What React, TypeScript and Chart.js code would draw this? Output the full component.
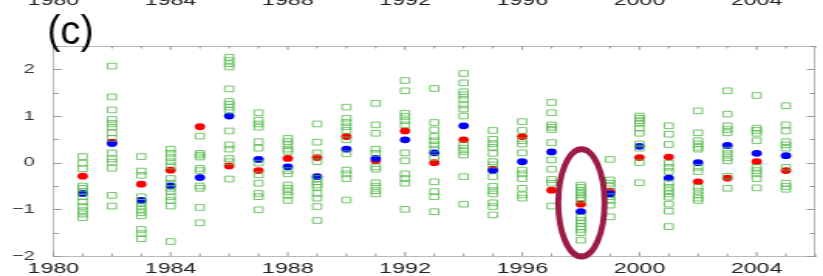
import React, { useEffect, useRef } from 'react';
import { Chart, registerables } from 'chart.js';

Chart.register(...registerables);

// ---- data ----
const years = [1981, 1982, 1983, 1984, 1985, 1986, 1987, 1988, 1989, 1990, 1991, 1992, 1993,
  1994, 1995, 1996, 1997, 1998, 1999, 2000, 2001, 2002, 2003, 2004, 2005];

const redValues = [-0.29, 0.44, -0.46, -0.16, 0.77, -0.07, -0.17, 0.09, 0.11, 0.56, 0.04, 0.68, 0.0,
  0.49, -0.14, 0.56, -0.59, -0.89, -0.61, 0.11, 0.12, -0.41, -0.33, 0.02, -0.17];

const blueValues = [-0.66, 0.41, -0.81, -0.5, -0.32, 1.0, 0.07, -0.09, -0.3, 0.29, 0.09, 0.49, 0.21,
  0.79, -0.17, 0.02, 0.23, -1.05, -0.67, 0.35, -0.33, 0.0, 0.37, 0.2, 0.15];

const ensembleMembers: number[][] = [
  [0.13, -0.01, -0.13, -0.5, -0.55, -0.62, -0.73, -0.84, -0.94, -1.03, -1.1, -1.18],
  [2.07, 1.41, 1.13, 0.93, 0.84, 0.76, 0.64, 0.52, 0.21, 0.08, 0.01, -0.12, -0.7, -0.93],
  [0.13, -0.18, -0.27, -0.73, -0.85, -0.93, -1.0, -1.07, -1.14, -1.43, -1.52, -1.63],
  [0.29, 0.2, 0.11, 0.02, -0.07, -0.34, -0.44, -0.55, -0.62, -0.73, -0.81, -0.93, -1.69],
  [0.57, 0.2, 0.16, 0.12, -0.12, -0.17, -0.5, -0.55, -0.96, -1.29],
  [2.26, 2.19, 2.12, 2.05, 1.58, 1.31, 1.25, 1.19, 1.12, 0.68, 0.38, 0.29, 0.09, 0.02, -0.35],
  [1.07, 0.91, 0.83, 0.76, 0.45, 0.31, -0.01, -0.26, -0.44, -0.66, -0.73, -1.01],
  [0.52, 0.45, 0.38, 0.29, 0.24, -0.17, -0.24, -0.48, -0.55, -0.62, -0.7, -0.81],
  [0.83, 0.44, 0.21, 0.02, -0.34, -0.41, -0.48, -0.53, -0.66, -0.76, -0.94, -1.24],
  [1.19, 0.95, 0.86, 0.77, 0.69, 0.49, 0.19, -0.16, -0.24, -0.34, -0.8],
  [1.27, 0.81, 0.63, 0.29, 0.2, -0.09, -0.14, -0.43, -0.51, -0.6, -0.67],
  [1.76, 1.54, 1.06, 0.99, 0.9, 0.81, 0.21, 0.04, -0.24, -0.34, -0.44, -1.0],
  [1.59, 0.86, 0.7, 0.56, 0.47, 0.38, 0.29, 0.11, -0.41, -0.62, -0.73, -1.05],
  [1.91, 1.71, 1.52, 1.45, 1.36, 1.24, 1.15, 1.0, 0.38, 0.31, 0.24, 0.16, -0.3, -0.89],
  [0.69, 0.5, 0.41, 0.33, 0.2, 0.02, -0.05, -0.3, -0.51, -0.6, -0.67, -0.86, -0.94, -1.12],
  [0.88, 0.69, 0.47, 0.4, 0.21, -0.16, -0.24, -0.34, -0.55, -0.69, -0.76],
  [1.29, 1.07, 0.81, 0.76, 0.71, 0.43, 0.06, -0.14, -0.36, -0.44, -0.93],
  [-0.48, -0.53, -0.59, -0.64, -0.69, -0.75, -0.8, -1.17, -1.24, -1.3, -1.37, -1.43, -1.5, -1.66],
  [0.07, -0.37, -0.44, -0.51, -0.73, -0.81, -0.91, -1.16],
  [1.0, 0.95, 0.9, 0.84, 0.74, 0.63, 0.4, 0.31, 0.0, -0.43],
  [0.79, 0.61, 0.39, -0.01, -0.1, -0.19, -0.44, -0.53, -0.6, -0.67, -0.74, -0.89, -1.04, -1.37],
  [1.11, 0.64, 0.47, 0.4, 0.33, 0.29, -0.1, -0.19, -0.53, -0.61, -0.69, -0.76, -0.81],
  [1.54, 1.04, 0.79, 0.71, 0.64, 0.27, 0.19, 0.11, 0.04, -0.29, -0.55],
  [1.44, 0.74, 0.69, 0.63, 0.47, -0.1, -0.17, -0.24, -0.34, -0.54],
  [1.22, 0.81, 0.68, 0.45, 0.38, 0.31, -0.1, -0.44, -0.51, -0.57],
];

const xLabelYears = [1980, 1984, 1988, 1992, 1996, 2000, 2004];
const yLabelValues = [-2, -1, 0, 1, 2];
const panelLabel = '(c)';

// highlighted year (ellipse annotation, in data units)
const highlightYear = 1998.02;
const highlightCenter = -0.86;
const highlightHalfWidthYears = 0.79;
const highlightHalfHeight = 1.15;

// ---- rendering geometry ----
const W0 = 532;
const H0 = 276;
const SX = 823 / W0;

const decorPlugin = {
  id: 'decor',
  afterDraw(chart: any) {
    const ctx = chart.ctx as CanvasRenderingContext2D;
    const { left, right, top, bottom } = chart.chartArea;
    const xs = chart.scales.x;
    const ys = chart.scales.y;
    ctx.save();
    // top & right frame
    ctx.strokeStyle = '#b8b8b8';
    ctx.lineWidth = 1;
    ctx.beginPath();
    ctx.moveTo(left, top + 0.5);
    ctx.lineTo(right, top + 0.5);
    ctx.moveTo(right - 0.5, top);
    ctx.lineTo(right - 0.5, bottom);
    ctx.stroke();
    // inward ticks
    ctx.strokeStyle = '#999';
    ctx.beginPath();
    for (let yr = xs.min; yr <= xs.max; yr++) {
      const px = xs.getPixelForValue(yr);
      const len = yr % 4 === 0 ? 4 : 2.5;
      ctx.moveTo(px, top);
      ctx.lineTo(px, top + len);
      ctx.moveTo(px, bottom);
      ctx.lineTo(px, bottom - len);
    }
    for (let v = ys.min; v <= ys.max + 1e-9; v += 0.5) {
      const py = Math.round(ys.getPixelForValue(v)) + 0.5;
      const len = Number.isInteger(v) ? 5.5 : 3.5;
      ctx.moveTo(left, py);
      ctx.lineTo(left + len, py);
      ctx.moveTo(right, py);
      ctx.lineTo(right - len, py);
    }
    ctx.stroke();

    // cut-off labels of the panel above
    ctx.fillStyle = '#222';
    ctx.font = '15px "Liberation Sans", Arial, sans-serif';
    ctx.textAlign = 'center';
    ctx.textBaseline = 'alphabetic';
    for (const yr of xLabelYears) {
      ctx.fillText(String(yr), xs.getPixelForValue(yr), 5);
    }

    // panel label, not stretched
    ctx.save();
    ctx.translate(47 / SX, 44);
    ctx.scale(1 / SX, 1);
    ctx.fillStyle = '#000';
    ctx.font = '40px "Liberation Sans", Arial, sans-serif';
    ctx.textAlign = 'left';
    ctx.fillText(panelLabel, 0, 0);
    ctx.restore();

    // highlight ellipse
    const cx = xs.getPixelForValue(highlightYear);
    const cy = ys.getPixelForValue(highlightCenter);
    const rx = Math.abs(xs.getPixelForValue(highlightYear + highlightHalfWidthYears) - cx);
    const ry = Math.abs(ys.getPixelForValue(highlightCenter + highlightHalfHeight) - cy);
    ctx.beginPath();
    ctx.ellipse(cx, cy, rx, ry, 0, 0, Math.PI * 2);
    ctx.save();
    ctx.scale(1 / SX, 1);
    ctx.lineWidth = 6;
    ctx.strokeStyle = '#9b1b45';
    ctx.stroke();
    ctx.restore();

    ctx.restore();
  },
};

export default function App() {
  const ref = useRef<HTMLCanvasElement | null>(null);

  useEffect(() => {
    document.body.style.margin = '0';
    if (!ref.current) return;

    const ensemblePoints = years.flatMap((yr, i) => ensembleMembers[i].map((v) => ({ x: yr, y: v })));
    const redPoints = years.map((yr, i) => ({ x: yr, y: redValues[i] }));
    const bluePoints = years.map((yr, i) => ({ x: yr, y: blueValues[i] }));

    const chart = new Chart(ref.current, {
      type: 'scatter',
      data: {
        datasets: [
          {
            label: 'ensemble',
            data: ensemblePoints,
            pointStyle: 'rect',
            pointRadius: 4,
            borderWidth: 1,
            borderColor: 'rgba(80,185,70,0.8)',
            backgroundColor: 'rgba(255,255,255,0)',
          },
          {
            label: 'blue',
            data: bluePoints,
            pointStyle: 'circle',
            pointRadius: 3.4,
            borderWidth: 0,
            backgroundColor: '#0000ff',
          },
          {
            label: 'red',
            data: redPoints,
            pointStyle: 'circle',
            pointRadius: 3.4,
            borderWidth: 0,
            backgroundColor: '#ff0000',
          },
        ],
      },
      options: {
        responsive: false,
        animation: false,
        events: [],
        layout: { padding: { top: 46, left: 0, right: 0, bottom: 0 } },
        plugins: { legend: { display: false }, tooltip: { enabled: false } },
        scales: {
          x: {
            type: 'linear',
            min: 1980,
            max: 2006,
            afterBuildTicks: (axis: any) => {
              axis.ticks = xLabelYears.map((v) => ({ value: v }));
            },
            afterFit: (axis: any) => {
              axis.height = 20;
            },
            ticks: {
              autoSkip: false,
              maxRotation: 0,
              minRotation: 0,
              padding: 4,
              color: '#222',
              font: { family: '"Liberation Sans", Arial, sans-serif', size: 15 },
              callback: (v: any) => String(v),
            },
            grid: { display: false, drawTicks: false },
            border: { display: true, color: '#b8b8b8', width: 1 },
          },
          y: {
            type: 'linear',
            min: -2,
            max: 2.5,
            afterBuildTicks: (axis: any) => {
              axis.ticks = yLabelValues.map((v) => ({ value: v }));
            },
            afterFit: (axis: any) => {
              axis.width = 34.5;
            },
            ticks: {
              padding: 12,
              color: '#333',
              font: { family: '"Liberation Sans", Arial, sans-serif', size: 13 },
              callback: (v: any) => (Number(v) < 0 ? '\u2212' + Math.abs(Number(v)) : String(v)),
            },
            grid: { display: false, drawTicks: false },
            border: { display: true, color: '#b8b8b8', width: 1 },
          },
        },
      },
      plugins: [decorPlugin],
    });

    return () => chart.destroy();
  }, []);

  return (
    <canvas
      ref={ref}
      width={W0}
      height={H0}
      style={{ width: '823px', height: '276px', display: 'block' }}
    />
  );
}
